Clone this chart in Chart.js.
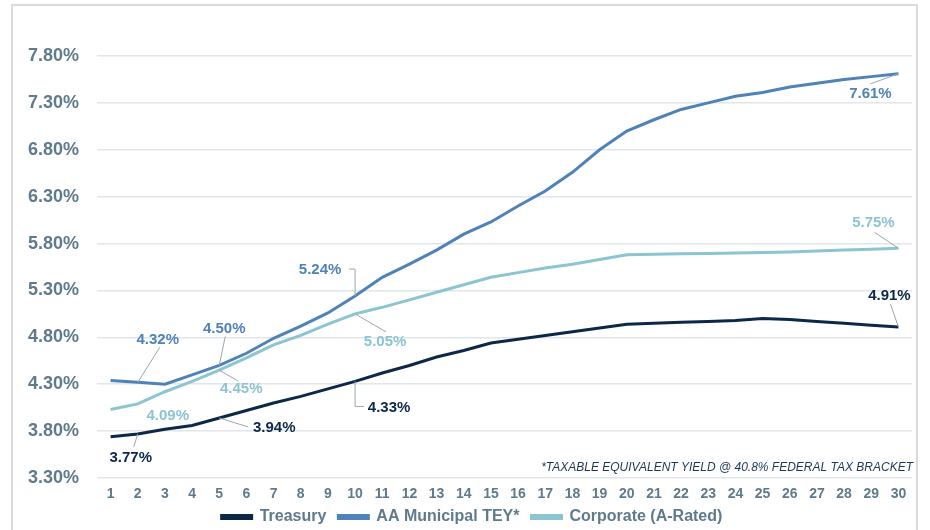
<!DOCTYPE html>
<html>
<head>
<meta charset="utf-8">
<script src="https://cdn.jsdelivr.net/npm/chart.js@4.4.1/dist/chart.umd.min.js"></script>
<style>
    html, body { margin: 0; padding: 0; background: #fff; overflow: hidden; }
    #wrap { position: relative; width: 930px; height: 530px; overflow: hidden; }
    #frame { position: absolute; left: 11px; top: 4px; width: 907px; height: 560px; border: 2px solid #dadada; box-sizing: border-box; }
    #chart { position: absolute; left: 0; top: 0; }
</style>
</head>
<body>
<div id="wrap">
    <div id="frame"></div>
    <canvas id="chart" width="930" height="546"></canvas>
</div>
<script>
// maturity in years
const tenors = ['1', '2', '3', '4', '5', '6', '7', '8', '9', '10', '11', '12', '13', '14', '15',
    '16', '17', '18', '19', '20', '21', '22', '23', '24', '25', '26', '27', '28', '29', '30'];

const treasury = [3.74, 3.77, 3.82, 3.86, 3.94, 4.02, 4.10, 4.17, 4.25, 4.33, 4.42, 4.50, 4.59, 4.66, 4.74,
    4.78, 4.82, 4.86, 4.90, 4.94, 4.95, 4.96, 4.97, 4.98, 5.00, 4.99, 4.97, 4.95, 4.93, 4.91];

const municipalTey = [4.34, 4.32, 4.30, 4.40, 4.50, 4.63, 4.79, 4.92, 5.06, 5.24, 5.44, 5.58, 5.73, 5.90, 6.03,
    6.20, 6.36, 6.56, 6.80, 7.00, 7.12, 7.23, 7.30, 7.37, 7.41, 7.47, 7.51, 7.55, 7.58, 7.61];

const corporate = [4.03, 4.09, 4.22, 4.33, 4.45, 4.58, 4.72, 4.82, 4.94, 5.05, 5.12, 5.20, 5.28, 5.36, 5.44,
    5.49, 5.54, 5.58, 5.63, 5.68, 5.685, 5.69, 5.695, 5.70, 5.705, 5.71, 5.72, 5.73, 5.74, 5.75];

const yTicks = [3.3, 3.8, 4.3, 4.8, 5.3, 5.8, 6.3, 6.8, 7.3, 7.8];

const footnote = '*TAXABLE EQUIVALENT YIELD @ 40.8% FEDERAL TAX BRACKET';

const colors = {
    treasury: '#0c2747',
    muni: '#4f82b6',
    corp: '#8cc4d1',
    tick: '#5f7a8b',
    grid: '#e0e6e9',
    leader: '#9aa6ae'
};

// callouts: dataset, point index, text offset, leader end (elbow = vertical then horizontal)
const callouts = [
    {ds: 0, i: 1, dx: -7, dy: 24, lx: -4, ly: 13},
    {ds: 0, i: 4, dx: 55, dy: 10, lx: 29, ly: 9},
    {ds: 0, i: 9, dx: 34, dy: 26, lx: 9, ly: 25, elbow: true},
    {ds: 0, i: 29, dx: -9, dy: -31, lx: -8, ly: -23},
    {ds: 1, i: 1, dx: 20, dy: -42, lx: 22, ly: -35},
    {ds: 1, i: 4, dx: 5, dy: -37, lx: 6, ly: -29},
    {ds: 1, i: 9, dx: -35, dy: -26, lx: -6, ly: -27, elbow: true},
    {ds: 1, i: 29, dx: -28, dy: 20, lx: -28, ly: 10},
    {ds: 2, i: 1, dx: 30, dy: 12},
    {ds: 2, i: 4, dx: 22, dy: 19, lx: 19, ly: 11},
    {ds: 2, i: 9, dx: 30, dy: 28, lx: 31, ly: 18},
    {ds: 2, i: 29, dx: -25, dy: -25, lx: -24, ly: -16}
];

const calloutPlugin = {
    id: 'callouts',
    afterLayout(chart) {
        // pull the legend up and right, the x labels need their own room
        const lg = chart.legend;
        if (lg) {
            lg.top -= 11;
            lg.bottom -= 11;
            lg.left += 16;
            lg.right += 16;
        }
    },
    afterDatasetsDraw(chart) {
        const ctx = chart.ctx;
        ctx.save();
        callouts.forEach(c => {
            const dataset = chart.data.datasets[c.ds];
            const pt = chart.getDatasetMeta(c.ds).data[c.i];
            if (c.lx !== undefined) {
                ctx.strokeStyle = colors.leader;
                ctx.lineWidth = 1;
                ctx.beginPath();
                ctx.moveTo(pt.x, pt.y);
                if (c.elbow) {
                    ctx.lineTo(pt.x, pt.y + c.ly);
                }
                ctx.lineTo(pt.x + c.lx, pt.y + c.ly);
                ctx.stroke();
            }
            ctx.fillStyle = dataset.borderColor;
            ctx.font = 'bold 15px "Liberation Sans", Arial, sans-serif';
            ctx.textAlign = 'center';
            ctx.textBaseline = 'middle';
            ctx.fillText(dataset.data[c.i].toFixed(2) + '%', pt.x + c.dx, pt.y + c.dy);
        });

        ctx.fillStyle = '#1d3656';
        ctx.font = 'italic 12px "Liberation Sans", Arial, sans-serif';
        ctx.textAlign = 'right';
        ctx.textBaseline = 'middle';
        ctx.fillText(footnote, 913, 468);
        ctx.restore();
    }
};

function makeLine(label, data, color) {
    return {
        label: label,
        data: data,
        borderColor: color,
        backgroundColor: color,
        borderWidth: 3,
        pointRadius: 0,
        tension: 0
    };
}

new Chart(document.getElementById('chart').getContext('2d'), {
    type: 'line',
    data: {
        labels: tenors,
        datasets: [
            makeLine('Treasury', treasury, colors.treasury),
            makeLine('AA Municipal TEY*', municipalTey, colors.muni),
            makeLine('Corporate (A-Rated)', corporate, colors.corp)
        ]
    },
    options: {
        responsive: false,
        animation: false,
        layout: {padding: {top: 56, right: 18, left: 0, bottom: 0}},
        scales: {
            x: {
                offset: true,
                grid: {display: false},
                border: {display: false},
                ticks: {
                    color: colors.tick,
                    padding: 0,
                    maxRotation: 0,
                    autoSkip: false,
                    font: {family: '"Liberation Sans", Arial, sans-serif', size: 14, weight: 'bold'}
                },
                afterFit: scale => { scale.height = 30; }
            },
            y: {
                min: 3.3,
                max: 7.8,
                afterBuildTicks: scale => { scale.ticks = yTicks.map(v => ({value: v})); },
                grid: {color: colors.grid, lineWidth: 1.5, drawTicks: false},
                border: {display: false},
                ticks: {
                    color: colors.tick,
                    padding: 18,
                    font: {family: '"Liberation Sans", Arial, sans-serif', size: 18, weight: 'bold'},
                    callback: value => value.toFixed(2) + '%'
                },
                afterFit: scale => { scale.width = 97; }
            }
        },
        plugins: {
            legend: {
                position: 'bottom',
                labels: {
                    boxWidth: 30,
                    boxHeight: 3,
                    padding: 12,
                    color: colors.tick,
                    font: {family: '"Liberation Sans", Arial, sans-serif', size: 16, weight: 'bold'}
                }
            },
            tooltip: {enabled: false}
        }
    },
    plugins: [calloutPlugin]
});
</script>
</body>
</html>
